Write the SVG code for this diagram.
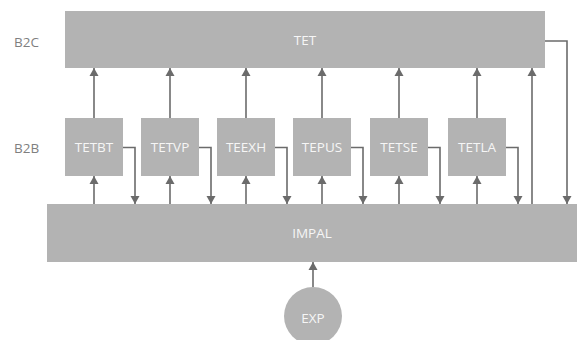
<svg xmlns="http://www.w3.org/2000/svg" width="577" height="340" viewBox="0 0 577 340">
<style>
.box{fill:#b3b3b3}
.lbl{font-family:"Open Sans","DejaVu Sans",sans-serif;font-size:13.5px;fill:#f6f6f6;text-anchor:middle;dominant-baseline:central}
.side{font-family:"Open Sans","DejaVu Sans",sans-serif;font-size:13.5px;fill:#7f7f7f;dominant-baseline:central}
.c{fill:none;stroke:#6b6b6b;stroke-width:1.6;marker-end:url(#ah)}
</style>
<defs>
<marker id="ah" markerUnits="userSpaceOnUse" markerWidth="10" markerHeight="10" viewBox="0 0 10 10" refX="9" refY="5" orient="auto">
<path d="M1,0.5 L9,5 L1,9.5 z" fill="#6b6b6b"/>
</marker>
</defs>
<rect width="577" height="340" fill="#ffffff"/>
<text class="side" x="14" y="42">B2C</text>
<text class="side" x="14" y="148">B2B</text>
<g id="TET"><rect class="box" x="65" y="11" width="480" height="57"/><text class="lbl" x="305" y="40">TET</text></g>
<g id="TETBT"><rect class="box" x="65" y="118" width="58" height="58"/><text class="lbl" x="94" y="147">TETBT</text></g>
<g id="TETVP"><rect class="box" x="141" y="118" width="58" height="58"/><text class="lbl" x="170" y="147">TETVP</text></g>
<g id="TEEXH"><rect class="box" x="217" y="118" width="58" height="58"/><text class="lbl" x="246" y="147">TEEXH</text></g>
<g id="TEPUS"><rect class="box" x="293" y="118" width="58" height="58"/><text class="lbl" x="322" y="147">TEPUS</text></g>
<g id="TETSE"><rect class="box" x="370" y="118" width="58" height="58"/><text class="lbl" x="399" y="147">TETSE</text></g>
<g id="TETLA"><rect class="box" x="448" y="118" width="58" height="58"/><text class="lbl" x="477" y="147">TETLA</text></g>
<g id="IMPAL"><rect class="box" x="47" y="204" width="530" height="58"/><text class="lbl" x="312" y="233">IMPAL</text></g>
<g id="EXP"><circle class="box" cx="313" cy="316" r="29"/><text class="lbl" x="313" y="318">EXP</text></g>
<g id="connectors">
<path class="c" d="M94,118 V68"/>
<path class="c" d="M170,118 V68"/>
<path class="c" d="M246,118 V68"/>
<path class="c" d="M322,118 V68"/>
<path class="c" d="M399,118 V68"/>
<path class="c" d="M477,118 V68"/>
<path class="c" d="M94,204 V176"/>
<path class="c" d="M170,204 V176"/>
<path class="c" d="M246,204 V176"/>
<path class="c" d="M322,204 V176"/>
<path class="c" d="M399,204 V176"/>
<path class="c" d="M477,204 V176"/>
<path class="c" d="M123,147.5 H135 V204"/>
<path class="c" d="M199,147.5 H211 V204"/>
<path class="c" d="M275,147.5 H287 V204"/>
<path class="c" d="M351,147.5 H363 V204"/>
<path class="c" d="M428,147.5 H440 V204"/>
<path class="c" d="M506,147.5 H518 V204"/>
<path class="c" d="M532,204 V68"/>
<path class="c" d="M545,41 H567 V204"/>
<path class="c" d="M313,287 V262"/>
</g>
</svg>
